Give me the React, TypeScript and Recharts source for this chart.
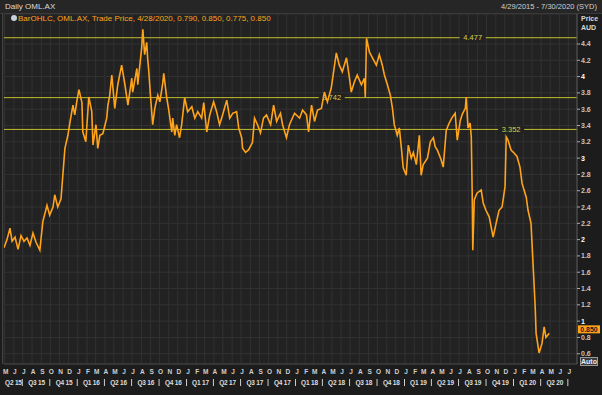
import React from 'react';
import { ComposedChart, Line, XAxis, YAxis, CartesianGrid, ReferenceLine } from 'recharts';

// OML.AX daily trade price
const dates = [
  '2015-04-29', '2015-05-09', '2015-05-19', '2015-05-26', '2015-06-05', '2015-06-15', '2015-06-25', '2015-07-05',
  '2015-07-15', '2015-07-25', '2015-08-04', '2015-08-14', '2015-08-27', '2015-09-06', '2015-09-20', '2015-09-29',
  '2015-10-10', '2015-10-16', '2015-10-26', '2015-11-06', '2015-11-12', '2015-11-19', '2015-11-29', '2015-12-06',
  '2015-12-16', '2015-12-22', '2015-12-29', '2016-01-05', '2016-01-15', '2016-01-18', '2016-01-28', '2016-02-07',
  '2016-02-17', '2016-02-21', '2016-03-02', '2016-03-08', '2016-03-15', '2016-03-25', '2016-04-07', '2016-04-11',
  '2016-04-17', '2016-04-24', '2016-05-04', '2016-05-14', '2016-05-27', '2016-06-07', '2016-06-17', '2016-06-30',
  '2016-07-03', '2016-07-17', '2016-07-20', '2016-08-02', '2016-08-06', '2016-08-12', '2016-08-19', '2016-08-22',
  '2016-08-26', '2016-09-01', '2016-09-08', '2016-09-15', '2016-09-25', '2016-10-02', '2016-10-12', '2016-10-15',
  '2016-10-25', '2016-10-31', '2016-11-11', '2016-11-14', '2016-11-21', '2016-11-27', '2016-12-07', '2016-12-14',
  '2016-12-24', '2017-01-03', '2017-01-17', '2017-01-27', '2017-02-06', '2017-02-19', '2017-02-26', '2017-03-08',
  '2017-03-18', '2017-03-31', '2017-04-10', '2017-04-20', '2017-04-30', '2017-05-14', '2017-05-24', '2017-06-03',
  '2017-06-16', '2017-06-23', '2017-07-03', '2017-07-06', '2017-07-16', '2017-07-26', '2017-08-08', '2017-08-15',
  '2017-08-25', '2017-09-04', '2017-09-14', '2017-09-24', '2017-10-08', '2017-10-18', '2017-10-28', '2017-11-10',
  '2017-11-17', '2017-11-30', '2017-12-10', '2017-12-27', '2018-01-13', '2018-01-23', '2018-02-05', '2018-02-12',
  '2018-02-22', '2018-03-04', '2018-03-14', '2018-03-27', '2018-04-06', '2018-04-16', '2018-04-29', '2018-05-10',
  '2018-05-16', '2018-05-26', '2018-06-05', '2018-06-19', '2018-06-29', '2018-07-05', '2018-07-15', '2018-07-25',
  '2018-08-08', '2018-08-18', '2018-08-21', '2018-08-25', '2018-09-04', '2018-09-14', '2018-09-27', '2018-10-07',
  '2018-10-17', '2018-10-24', '2018-11-03', '2018-11-13', '2018-11-20', '2018-11-26', '2018-12-06', '2018-12-13',
  '2018-12-20', '2018-12-26', '2019-01-05', '2019-01-12', '2019-01-22', '2019-01-29', '2019-02-08', '2019-02-18',
  '2019-02-24', '2019-03-03', '2019-03-17', '2019-03-27', '2019-04-06', '2019-04-12', '2019-04-19', '2019-05-02',
  '2019-05-09', '2019-05-19', '2019-05-29', '2019-06-08', '2019-06-18', '2019-06-25', '2019-07-05', '2019-07-12',
  '2019-07-22', '2019-07-25', '2019-07-31', '2019-08-07', '2019-08-11', '2019-08-14', '2019-08-16', '2019-08-21',
  '2019-08-30', '2019-09-13', '2019-09-20', '2019-09-29', '2019-10-10', '2019-10-23', '2019-11-02', '2019-11-12',
  '2019-11-22', '2019-12-02', '2019-12-06', '2019-12-12', '2019-12-22', '2020-01-02', '2020-01-11', '2020-01-21',
  '2020-01-28', '2020-02-11', '2020-02-17', '2020-02-27', '2020-03-02', '2020-03-08', '2020-03-12', '2020-03-15',
  '2020-03-25', '2020-04-04', '2020-04-11', '2020-04-17', '2020-04-28',
];

const prices = [
  1.90, 2.00, 2.14, 1.98, 2.03, 1.88, 2.05, 1.98,
  2.02, 1.93, 2.08, 1.97, 1.87, 2.22, 2.42, 2.30,
  2.40, 2.55, 2.40, 2.50, 2.79, 3.12, 3.28, 3.44,
  3.65, 3.53, 3.70, 3.84, 3.68, 3.32, 3.20, 3.75,
  3.57, 3.16, 3.41, 3.12, 3.28, 3.30, 3.49, 3.65,
  3.77, 4.02, 3.61, 3.90, 4.14, 3.90, 3.65, 3.98,
  3.81, 4.10, 3.90, 4.35, 4.58, 4.27, 4.42, 4.23,
  4.06, 3.74, 3.41, 3.61, 3.77, 3.69, 3.93, 4.04,
  3.74, 3.61, 3.32, 3.49, 3.28, 3.41, 3.25, 3.41,
  3.74, 3.57, 3.63, 3.49, 3.57, 3.49, 3.68, 3.32,
  3.53, 3.69, 3.57, 3.41, 3.53, 3.71, 3.49, 3.55,
  3.57, 3.37, 3.25, 3.12, 3.07, 3.10, 3.19, 3.49,
  3.41, 3.31, 3.49, 3.53, 3.41, 3.65, 3.45, 3.55,
  3.41, 3.25, 3.41, 3.55, 3.49, 3.59, 3.53, 3.32,
  3.65, 3.45, 3.59, 3.61, 3.81, 3.69, 3.86, 4.14,
  4.29, 4.14, 4.06, 4.23, 3.98, 3.81, 3.93, 4.02,
  3.90, 3.98, 3.75, 4.47, 4.30, 4.23, 4.14, 4.27,
  4.14, 4.02, 3.90, 3.77, 3.61, 3.41, 3.28, 3.37,
  3.12, 2.88, 2.79, 3.16, 3.00, 3.07, 2.92, 3.28,
  2.79, 2.92, 3.00, 3.20, 3.25, 3.14, 3.10, 2.98,
  2.89, 3.34, 3.43, 3.50, 3.55, 3.22, 3.46, 3.54,
  3.61, 3.75, 3.37, 3.43, 3.26, 2.57, 1.87, 2.49,
  2.57, 2.61, 2.45, 2.36, 2.28, 2.03, 2.20, 2.36,
  2.40, 2.65, 3.26, 3.22, 3.10, 3.06, 3.02, 2.89,
  2.69, 2.52, 2.36, 2.20, 1.91, 1.47, 1.17, 0.85,
  0.61, 0.73, 0.93, 0.80, 0.85,
];

const levels = [4.477, 3.742, 3.352];
const priceTicks = [0.6, 0.8, 1, 1.2, 1.4, 1.6, 1.8, 2, 2.2, 2.4, 2.6, 2.8, 3, 3.2, 3.4, 3.6, 3.8, 4, 4.2, 4.4];
const monthLetters = ['J', 'F', 'M', 'A', 'M', 'J', 'J', 'A', 'S', 'O', 'N', 'D'];
const quarterLabels = [
  'Q2 15', 'Q3 15', 'Q4 15', 'Q1 16', 'Q2 16', 'Q3 16', 'Q4 16', 'Q1 17', 'Q2 17', 'Q3 17', 'Q4 17',
  'Q1 18', 'Q2 18', 'Q3 18', 'Q4 18', 'Q1 19', 'Q2 19', 'Q3 19', 'Q4 19', 'Q1 20', 'Q2 20',
];
const rangeStart = '2015-04-29';
const rangeEnd = '2020-07-30';
const lastBar = { date: '4/28/2020', open: '0.790', high: '0.850', low: '0.775', close: 0.85 };

const FONT = '"Liberation Sans", Arial, sans-serif';
const PLOT_BG = '#222222';
const GRID = '#323232';
const ORANGE = '#ffa31a';
const LEVEL = '#c4bd2c';

const t0 = Date.parse(rangeStart);
const t1 = Date.parse(rangeEnd);
const data = dates.map((d, i) => ({ t: Date.parse(d), price: prices[i] }));

// month starts May 2015 .. Jul 2020
const monthTicks: number[] = [];
for (let y = 2015, m = 4; y < 2020 || m <= 6; ) {
  monthTicks.push(Date.UTC(y, m, 1));
  m++;
  if (m === 12) { m = 0; y++; }
}

// quarter captions centred on the visible part of each quarter, separators at quarter ends
const quarterText = new Map<number, string>();
const quarterTicks: number[] = [];
quarterLabels.forEach((label, i) => {
  const q = 1 + i; // Q2 15 is index 0
  const year = 2015 + Math.floor(q / 4);
  const qs = Date.UTC(year, (q % 4) * 3, 1);
  const qe = Date.UTC(year, (q % 4) * 3 + 3, 1);
  const mid = (Math.max(qs, t0) + Math.min(qe, t1)) / 2;
  quarterText.set(mid, label);
  quarterTicks.push(mid, qe);
});

const MonthTick = ({ x, y, payload }: any) => {
  const m = new Date(payload.value).getUTCMonth();
  return (
    <text x={x + 1} y={y + 10} textAnchor="middle" fontSize={6.5} fontWeight="bold" fill="#cfcfcf" fontFamily={FONT}>
      {monthLetters[m]}
    </text>
  );
};

const QuarterTick = ({ x, y, payload }: any) => {
  const label = quarterText.get(payload.value);
  if (label === undefined) {
    return <line x1={x - 0.5} x2={x - 0.5} y1={y + 3} y2={y + 10} stroke="#cfcfcf" />;
  }
  return (
    <text x={x} y={y + 9} textAnchor="middle" fontSize={6.5} fontWeight="bold" letterSpacing={-0.2} fill="#dcdcdc" fontFamily={FONT}>
      {label}
    </text>
  );
};

const PriceTick = ({ x, y, payload }: any) => {
  const v = payload.value as number;
  const whole = Number.isInteger(v);
  return (
    <g>
      <line x1={x} x2={x + 3} y1={y} y2={y} stroke="#aaa" />
      <text x={x + 4} y={y} dy={2.5} fontSize={7} fontWeight="bold" fill={whole ? '#ffffff' : '#c4c4c4'} fontFamily={FONT}>
        {whole ? String(v) : v.toFixed(1)}
      </text>
    </g>
  );
};

const levelLabel = (frac: number, text: string) => (props: any) => {
  const { viewBox } = props;
  const cx = viewBox.x + viewBox.width * frac;
  return (
    <g>
      <rect x={cx - 13} y={viewBox.y - 4} width={26} height={8} fill={PLOT_BG} />
      <text x={cx} y={viewBox.y} dy={2.5} textAnchor="middle" fontSize={7.5} fill="#d6d04a" fontFamily={FONT}>
        {text}
      </text>
    </g>
  );
};

const closeLabel = (props: any) => {
  const { viewBox } = props;
  const x = viewBox.x + viewBox.width + 1;
  return (
    <g>
      <rect x={x} y={viewBox.y - 8} width={22} height={8} fill={ORANGE} />
      <text x={x + 11} y={viewBox.y - 1.5} textAnchor="middle" fontSize={7} fontWeight="bold" fill="#1a1a1a" fontFamily={FONT}>
        {lastBar.close.toFixed(3)}
      </text>
    </g>
  );
};

const labelFracs = [0.818, 0.572, 0.885];

export default function App() {
  return (
    <div style={{ position: 'absolute', left: 0, top: 0, width: 602, height: 395, background: '#1c1c1c', fontFamily: FONT }}>
      <ComposedChart width={602} height={395} data={data} margin={{ top: 14, right: 0, bottom: 0, left: 4 }}>
        <CartesianGrid stroke={GRID} fill={PLOT_BG} />
        <XAxis
          dataKey="t"
          type="number"
          domain={[t0, t1]}
          allowDataOverflow
          ticks={monthTicks}
          interval={0}
          height={12}
          tickSize={0}
          tickMargin={0}
          axisLine={{ stroke: '#444' }}
          tick={<MonthTick />}
        />
        <XAxis
          xAxisId="q"
          dataKey="t"
          type="number"
          domain={[t0, t1]}
          allowDataOverflow
          ticks={quarterTicks}
          interval={0}
          height={19}
          tickSize={0}
          tickMargin={0}
          axisLine={false}
          tick={<QuarterTick />}
        />
        <YAxis
          orientation="right"
          domain={[0.474, 4.768]}
          allowDataOverflow
          ticks={priceTicks}
          interval={0}
          width={25}
          tickSize={0}
          tickMargin={0}
          axisLine={{ stroke: '#555' }}
          tick={<PriceTick />}
        />
        {levels.map((v, i) => (
          <ReferenceLine key={v} y={v} stroke={LEVEL} strokeWidth={1} label={levelLabel(labelFracs[i], v.toFixed(3))} />
        ))}
        <ReferenceLine y={lastBar.close} strokeOpacity={0} label={closeLabel} />
        <Line
          type="linear"
          dataKey="price"
          stroke={ORANGE}
          strokeWidth={1.6}
          dot={false}
          isAnimationActive={false}
        />
        <Line xAxisId="q" dataKey="price" stroke="none" dot={false} isAnimationActive={false} />
      </ComposedChart>

      {/* header bar and left frame */}
      <div style={{ position: 'absolute', left: 0, top: 0, width: 602, height: 13, background: '#262626', borderBottom: '1px solid #3a3a3a' }} />
      <div style={{ position: 'absolute', left: 2, top: 14, width: 1, height: 350, background: '#444' }} />
      <div style={{ position: 'absolute', left: 5, top: 2, fontSize: 8, color: '#dcdcdc' }}>Daily OML.AX</div>
      <div style={{ position: 'absolute', right: 5, top: 2, fontSize: 7.5, color: '#cfcfcf' }}>4/29/2015 - 7/30/2020 (SYD)</div>

      {/* series legend */}
      <div style={{ position: 'absolute', left: 11, top: 15, width: 6, height: 6, borderRadius: 3, background: '#c8d0dc' }} />
      <div style={{ position: 'absolute', left: 18, top: 14, fontSize: 8, color: ORANGE, whiteSpace: 'nowrap' }}>
        {`BarOHLC, OML.AX, Trade Price, ${lastBar.date}, ${lastBar.open}, ${lastBar.high}, ${lastBar.low}, ${lastBar.close.toFixed(3)}`}
      </div>

      {/* right axis caption */}
      <div style={{ position: 'absolute', left: 581, top: 14, fontSize: 7, fontWeight: 'bold', color: '#d8d8d8', lineHeight: '9px' }}>
        Price<br />AUD
      </div>

      {/* auto button */}
      <div style={{ position: 'absolute', left: 580, top: 357, width: 18, height: 9, border: '1px solid #9a9a9a', background: '#3a3a3a', color: '#eee', fontSize: 7, fontWeight: 'bold', lineHeight: '8px', textAlign: 'center', boxSizing: 'border-box' }}>
        Auto
      </div>
    </div>
  );
}
